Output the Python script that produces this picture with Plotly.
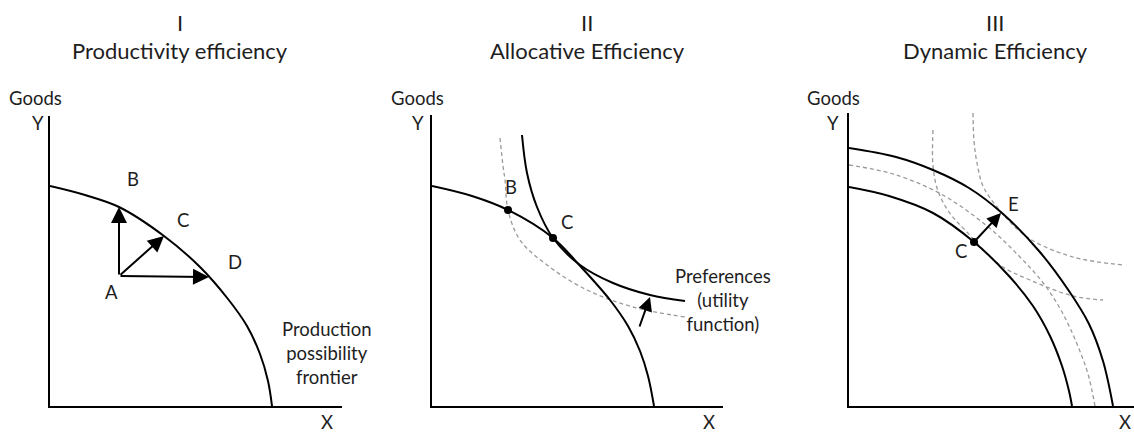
import plotly.graph_objects as go

# ---------------- data (panel units ~ pixels from origin) -------------
titles = ["I", "Productivity efficiency", "II", "Allocative Efficiency", "III", "Dynamic Efficiency"]

# Panel I : production possibility frontier
ppf1_x = [0, 35, 69, 114, 150, 178, 197, 210, 218, 222]
ppf1_y = [220, 211, 199, 170, 139, 107, 80, 52, 25, 0]
point_A = (69, 130)
arrow_tips1 = [(69, 199), (114, 170), (159, 129)]   # to B, C, D

# Panel II : PPF and utility (preference) curves
ppf2_x = [0, 40, 76, 121, 150, 178, 196, 208, 216, 222]
ppf2_y = [220, 210, 196, 168, 138, 106, 80, 55, 30, 0]
util2_x = [90, 95, 105, 121, 148, 181, 218, 253]
util2_y = [271, 233, 199, 168, 141, 123, 111, 105]
util2d_x = [68, 71, 73, 76, 88, 115, 155, 201, 253]
util2d_y = [268, 240, 226, 196, 166, 141, 116, 99, 89]
dots2_x = [76, 121]
dots2_y = [196, 168]
arrow2_tail = (207, 78)
arrow2_head = (218, 109)

# Panel III : shifting PPF
ppf3_in_x = [0, 40, 84, 125, 160, 184, 201, 213, 220, 223]
ppf3_in_y = [219, 210, 193, 164, 130, 100, 70, 40, 15, 0]
ppf3_mid_x = [0, 44, 92, 138, 170, 195, 213, 228, 239, 246]
ppf3_mid_y = [241, 232, 212, 180, 150, 122, 94, 62, 32, 0]
ppf3_out_x = [0, 47, 84, 120, 153, 190, 220, 240, 254, 264]
ppf3_out_y = [258, 249, 236, 218, 193, 155, 115, 82, 45, 0]
ind3a_x = [84, 84, 89, 100, 116, 151, 181, 224, 254]
ind3a_y = [276, 240, 215, 194, 176, 141, 126, 110, 106]
ind3b_x = [124, 125, 128, 134, 148, 178, 224, 275]
ind3b_y = [293, 265, 243, 220, 199, 169, 149, 141]
dot3 = (125, 164)
arrow3_head = (152, 193)

# ---------------- layout geometry (pixels) ----------------
W, H = 1134, 434
panels = [  # origin x, origin y, x length, top y
    (50, 406, 292, 116),
    (432, 406, 291, 115),
    (849, 406, 285, 113),
]
FONT = "Lato"
TXT = "#1e1e1e"
DASH_COL = "#9a9a9a"
LBL = 18.5

fig = go.Figure()

def ax_names(i):
    s = "" if i == 0 else str(i + 1)
    return "x" + s, "y" + s

def line(i, xs, ys, dashed=False, width=2):
    xr, yr = ax_names(i)
    fig.add_trace(go.Scatter(
        x=xs, y=ys, xaxis=xr, yaxis=yr, mode="lines",
        line=dict(shape="spline", smoothing=1.0,
                  color=DASH_COL if dashed else "#000000",
                  width=1.3 if dashed else width,
                  dash="4px,3px" if dashed else "solid"),
        hoverinfo="skip", showlegend=False))

def dots(i, xs, ys):
    xr, yr = ax_names(i)
    fig.add_trace(go.Scatter(x=xs, y=ys, xaxis=xr, yaxis=yr, mode="markers",
                             marker=dict(size=8, color="#000000"),
                             hoverinfo="skip", showlegend=False, cliponaxis=False))

def arrow(i, tail, head, size=1.3):
    xr, yr = ax_names(i)
    fig.add_annotation(x=head[0], y=head[1], ax=tail[0], ay=tail[1],
                       xref=xr, yref=yr, axref=xr, ayref=yr, text="",
                       showarrow=True, arrowhead=2, arrowsize=size,
                       arrowwidth=2, arrowcolor="#000000", standoff=0)

def label(px, py, text, size=LBL, yanchor="middle"):
    fig.add_annotation(x=px / W, y=(H - py) / H, xref="paper", yref="paper",
                       text=text, showarrow=False, xanchor="center", yanchor=yanchor,
                       borderpad=0, font=dict(family=FONT, size=size, color=TXT))

# axes
for i, (ox, oy, xl, top) in enumerate(panels):
    s = "" if i == 0 else str(i + 1)
    fig.layout["xaxis" + s] = dict(domain=[ox / W, (ox + xl) / W], range=[0, xl],
                                   anchor="y" + s, showline=True, linecolor="#000000",
                                   linewidth=2, showgrid=False, zeroline=False,
                                   showticklabels=False, ticks="", fixedrange=True)
    fig.layout["yaxis" + s] = dict(domain=[(H - oy) / H, (H - top) / H], range=[0, oy - top],
                                   anchor="x" + s, showline=True, linecolor="#000000",
                                   linewidth=2, showgrid=False, zeroline=False,
                                   showticklabels=False, ticks="", fixedrange=True)

# Panel I
line(0, ppf1_x, ppf1_y)
for tip in arrow_tips1:
    arrow(0, point_A, tip, size=1.6)

# Panel II
line(1, util2d_x, util2d_y, dashed=True)
line(1, ppf2_x, ppf2_y)
line(1, util2_x, util2_y)
dots(1, dots2_x, dots2_y)
arrow(1, arrow2_tail, arrow2_head, size=1.4)

# Panel III
line(2, ind3a_x, ind3a_y, dashed=True)
line(2, ind3b_x, ind3b_y, dashed=True)
line(2, ppf3_mid_x, ppf3_mid_y, dashed=True)
line(2, ppf3_in_x, ppf3_in_y)
line(2, ppf3_out_x, ppf3_out_y)
dots(2, [dot3[0]], [dot3[1]])
arrow(2, dot3, arrow3_head, size=1.4)

# titles
title_pos = [(180, 22), (180, 51), (587, 22), (587, 51), (995, 22), (995, 51)]
for (tx, ty), t in zip(title_pos, titles):
    label(tx, ty, t, size=22)

# axis labels
for gx, yx, xx in [((35, 98), (38, 123), 327),
                   ((417, 98), (418, 123), 709),
                   ((833, 98), (833, 123), 1125)]:
    label(gx[0], gx[1], "Goods")
    label(yx[0], yx[1], "Y")
    label(xx, 434, "X", yanchor="bottom")

# point labels
label(133, 179, "B")
label(183, 220, "C")
label(235, 262, "D")
label(111, 292, "A")
label(327, 353, "Production<br>possibility<br>frontier")
label(511, 187, "B")
label(567, 222, "C")
label(723, 300, "Preferences<br>(utility<br>function)")
label(1013, 204, "E")
label(961, 251, "C")

fig.update_layout(width=W, height=H, margin=dict(l=0, r=0, t=0, b=0),
                  paper_bgcolor="white", plot_bgcolor="white", showlegend=False)

fig.write_html("out.html", config={"displayModeBar": False},
               post_script="document.body.style.margin='0';document.body.style.overflow='hidden';")
